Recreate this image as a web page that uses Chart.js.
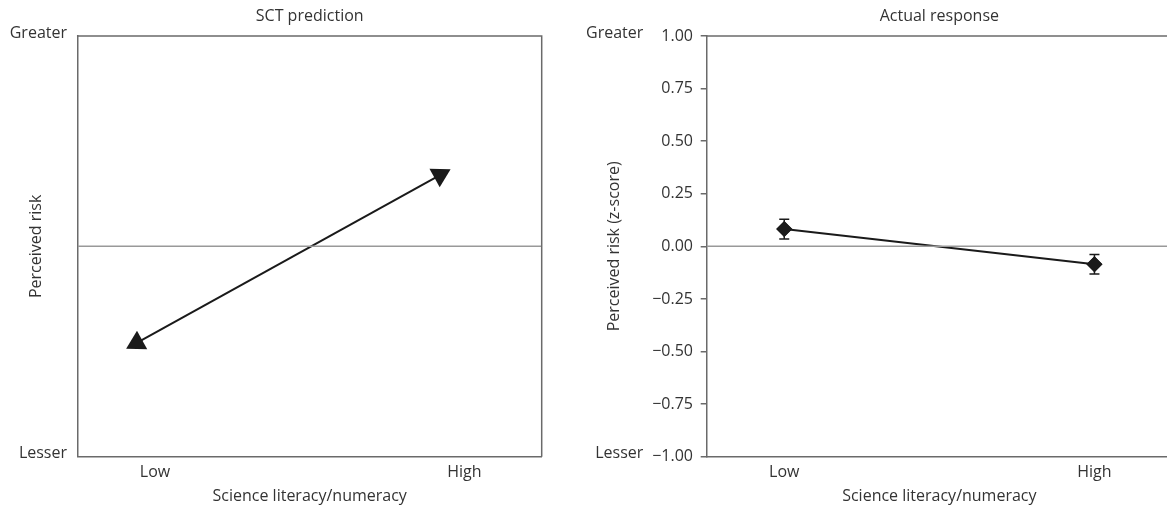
<!DOCTYPE html>
<html><head><meta charset="utf-8">
<script src="https://cdn.jsdelivr.net/npm/chart.js@4"></script>
<style>
html,body{margin:0;padding:0;background:#fff;overflow:hidden;width:1167px;height:506px;position:relative;}
#cl{position:absolute;left:0;top:0;width:560px;height:506px;}
#cr{position:absolute;left:560px;top:0;width:612px;height:506px;}
</style></head><body>
<canvas id="cl" width="560" height="506"></canvas>
<canvas id="cr" width="612" height="506"></canvas>
<script>
// ---- data ----
const categories = ['Low', 'High'];
const categoryValues = [0, 1];
const predictionX = [-0.059, 0.921];
const predictionY = [-0.459, 0.339];
const actualMean = [0.082, -0.085];
const actualErr = [0.047, 0.046];
const qualitativeTickValues = [-1, 1];
const qualitativeTickLabels = ['Lesser', 'Greater'];
const zTickValues = [-1, -0.75, -0.5, -0.25, 0, 0.25, 0.5, 0.75, 1];
const zTickLabels = ['\u22121.00', '\u22120.75', '\u22120.50', '\u22120.25', '0.00', '0.25', '0.50', '0.75', '1.00'];
const referenceX = [-0.25, 1.25];
const referenceY = [0, 0];

Chart.defaults.font.family = "'Open Sans', sans-serif";
Chart.defaults.font.size = 16;
Chart.defaults.color = '#333';

const AXIS = '#6a6a6a';
const INK = '#1a1a1a';

const framePlugin = {
  id: 'frame',
  afterDatasetsDraw(chart, args, opts) {
    const {ctx, chartArea: a} = chart;
    ctx.save();
    ctx.strokeStyle = opts.color || AXIS;
    ctx.lineWidth = opts.width || 1.5;
    ctx.beginPath();
    if ((opts.sides || []).includes('top')) { ctx.moveTo(a.left - 0.75, a.top); ctx.lineTo(a.right + 0.75, a.top); }
    if ((opts.sides || []).includes('right')) { ctx.moveTo(a.right, a.top); ctx.lineTo(a.right, a.bottom); }
    ctx.stroke();
    ctx.restore();
  }
};

const errorBarPlugin = {
  id: 'errorBars',
  afterDatasetsDraw(chart) {
    const {ctx} = chart;
    const xS = chart.scales.x, yS = chart.scales.y;
    chart.data.datasets.forEach((ds, di) => {
      if (!ds.errors) return;
      ctx.save();
      ctx.strokeStyle = INK;
      ctx.lineWidth = 1.5;
      ds.data.forEach((p, i) => {
        const x = xS.getPixelForValue(p.x);
        const yt = yS.getPixelForValue(p.y + ds.errors[i]);
        const yb = yS.getPixelForValue(p.y - ds.errors[i]);
        ctx.beginPath();
        ctx.moveTo(x, yt); ctx.lineTo(x, yb);
        ctx.moveTo(x - 5, yt); ctx.lineTo(x + 5, yt);
        ctx.moveTo(x - 5, yb); ctx.lineTo(x + 5, yb);
        ctx.stroke();
      });
      ctx.restore();
      const meta = chart.getDatasetMeta(di);
      meta.data.forEach(pt => pt.draw(ctx, chart.chartArea));
    });
  }
};

const catAxis = (height) => ({
  type: 'linear',
  min: referenceX[0], max: referenceX[1],
  afterBuildTicks(s) { s.ticks = categoryValues.map(v => ({value: v})); },
  afterFit(s) { s.height = height; },
  ticks: {
    padding: 6,
    callback: (v) => categories[categoryValues.indexOf(v)]
  },
  grid: {display: false, drawTicks: false},
  border: {display: true, color: AXIS, width: 1.5},
  title: {display: true, text: 'Science literacy/numeracy', padding: {top: 0, bottom: 0}}
});

const titleOpts = (text) => ({
  display: true, text, fullSize: false, color: '#333',
  font: {size: 16, weight: 'normal'},
  padding: {top: 7, bottom: 9.8}
});

new Chart(document.getElementById('cl'), {
  type: 'line',
  data: {
    datasets: [
      {
        data: referenceX.map((x, i) => ({x, y: referenceY[i]})),
        borderColor: '#999', borderWidth: 1.5, pointRadius: 0
      },
      {
        data: predictionX.map((x, i) => ({x, y: predictionY[i]})),
        borderColor: INK, borderWidth: 2,
        pointStyle: 'triangle', pointRadius: 12.2,
        pointRotation: [241, 61],
        pointBackgroundColor: INK, pointBorderColor: INK, pointBorderWidth: 0
      }
    ]
  },
  options: {
    responsive: false, animation: false,
    events: [],
    layout: {autoPadding: false, padding: {left: 0, right: 18.3, top: 0, bottom: 0}},
    plugins: {
      legend: {display: false}, tooltip: {enabled: false},
      title: titleOpts('SCT prediction'),
      frame: {sides: ['top', 'right']}
    },
    scales: {
      x: catAxis(49.3),
      y: {
        type: 'linear', min: -1, max: 1,
        afterBuildTicks(s) { s.ticks = qualitativeTickValues.map(v => ({value: v})); },
        afterFit(s) { s.width = 77.7; },
        ticks: {
          padding: 10.7, labelOffset: -3,
          callback: (v) => qualitativeTickLabels[qualitativeTickValues.indexOf(v)]
        },
        grid: {display: false, drawTicks: false},
        border: {display: true, color: AXIS, width: 1.5},
        title: {display: true, text: 'Perceived risk', padding: {top: 27, bottom: 0}}
      }
    }
  },
  plugins: [framePlugin]
});

new Chart(document.getElementById('cr'), {
  type: 'line',
  data: {
    datasets: [
      {
        data: referenceX.map((x, i) => ({x, y: referenceY[i]})),
        borderColor: '#999', borderWidth: 1.5, pointRadius: 0
      },
      {
        data: categoryValues.map((x, i) => ({x, y: actualMean[i]})),
        errors: actualErr,
        borderColor: INK, borderWidth: 2,
        pointStyle: 'rectRot', pointRadius: 8,
        pointBackgroundColor: INK, pointBorderColor: INK, pointBorderWidth: 0
      }
    ]
  },
  options: {
    responsive: false, animation: false,
    events: [],
    layout: {autoPadding: false, padding: 0},
    plugins: {
      legend: {display: false}, tooltip: {enabled: false},
      title: titleOpts('Actual response'),
      frame: {sides: ['top']}
    },
    scales: {
      x: catAxis(49.3),
      y: {
        type: 'linear', position: 'left', weight: 0, min: -1, max: 1,
        afterBuildTicks(s) { s.ticks = zTickValues.map(v => ({value: v})); },
        afterFit(s) { s.width = 55.7; },
        ticks: {
          padding: 7.7,
          callback: (v) => zTickLabels[zTickValues.indexOf(v)]
        },
        grid: {display: true, drawOnChartArea: false, drawTicks: true, tickLength: 6, color: AXIS, lineWidth: 1.5},
        border: {display: true, color: AXIS, width: 1.5}
      },
      y2: {
        type: 'linear', position: 'left', weight: 1, min: -1, max: 1,
        afterBuildTicks(s) { s.ticks = qualitativeTickValues.map(v => ({value: v})); },
        afterFit(s) { s.width = 91; },
        ticks: {
          padding: 7.7, labelOffset: -3,
          callback: (v) => qualitativeTickLabels[qualitativeTickValues.indexOf(v)]
        },
        grid: {display: false, drawTicks: false},
        border: {display: false},
        title: {display: true, text: 'Perceived risk (z-score)', padding: {top: 44.4, bottom: 0}}
      }
    }
  },
  plugins: [framePlugin, errorBarPlugin]
});
</script>
</body></html>
